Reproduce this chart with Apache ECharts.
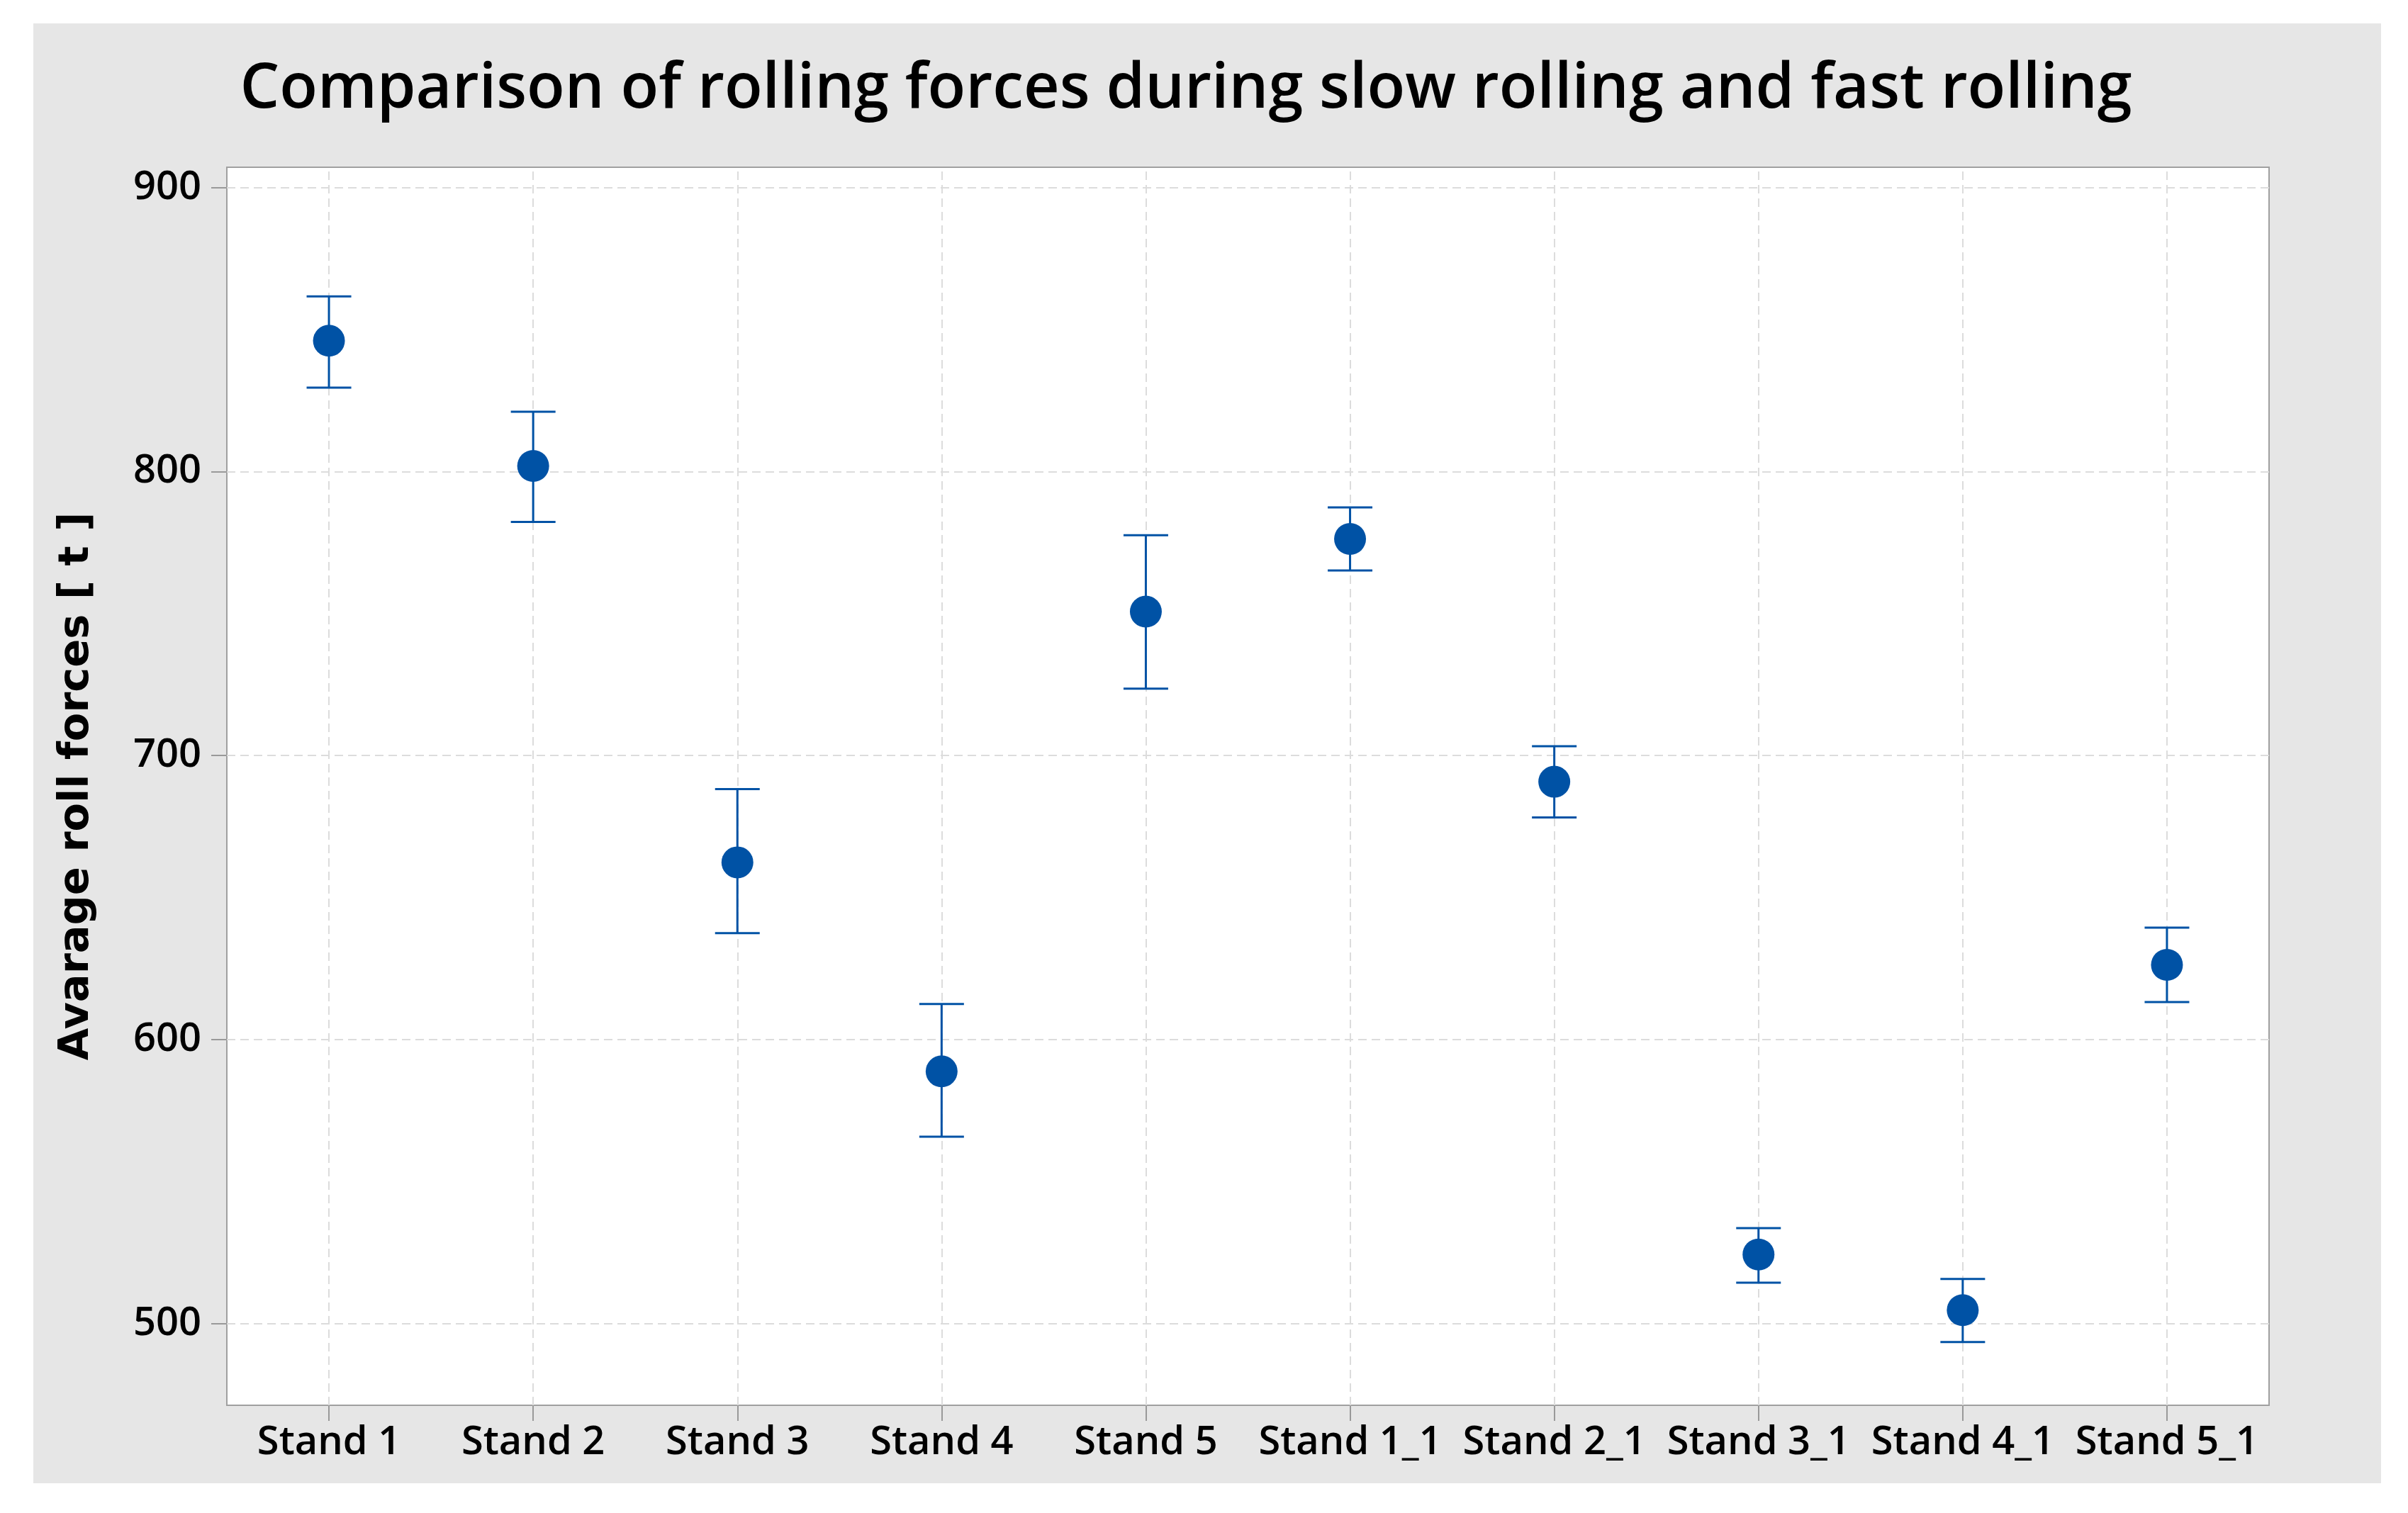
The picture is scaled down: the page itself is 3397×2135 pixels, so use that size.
<!DOCTYPE html>
<html>
<head>
<meta charset="utf-8">
<script src="https://cdn.jsdelivr.net/npm/echarts@6/dist/echarts.min.js"></script>
<style>
  html, body { margin: 0; padding: 0; background: #ffffff; }
  #bg { position: absolute; left: 47px; top: 33px; width: 3312px; height: 2060px; background: #e6e6e6; }
  #chart { position: absolute; left: 0; top: 0; width: 3397px; height: 2135px; }
</style>
</head>
<body>
<div id="bg"></div>
<div id="chart"></div>
<script>
const categories = ['Stand 1', 'Stand 2', 'Stand 3', 'Stand 4', 'Stand 5',
                    'Stand 1_1', 'Stand 2_1', 'Stand 3_1', 'Stand 4_1', 'Stand 5_1'];
const means = [846.1, 802.0, 662.4, 588.8, 750.7, 776.3, 690.8, 524.3, 504.7, 626.3];
const upper = [861.7, 821.1, 688.2, 612.5, 777.6, 787.4, 703.3, 533.6, 515.7, 639.4];
const lower = [829.6, 782.3, 637.5, 565.8, 723.6, 765.2, 678.2, 514.4, 493.5, 613.2];
const yTicks = [500, 600, 700, 800, 900];

const FONT = '"Open Sans", "Noto Sans", sans-serif';
const NAME_FONT = '"DejaVu Sans", Verdana, sans-serif';
const BLUE = '#0052A5';
const GRID_COLOR = '#dcdcdc';

const chart = echarts.init(document.getElementById('chart'), null, { renderer: 'canvas' });

const errData = categories.map((c, i) => [i, lower[i], upper[i]]);

const option = {
  backgroundColor: 'transparent',
  animation: false,
  title: {
    text: 'Comparison of rolling forces during slow rolling and fast rolling',
    left: 1668,
    textAlign: 'center',
    top: 78,
    textStyle: { fontFamily: FONT, fontSize: 88, fontWeight: 600, color: '#000' }
  },
  grid: {
    left: 320, top: 236, width: 2881, height: 1747,
    show: true, backgroundColor: '#ffffff', borderColor: '#a0a0a0', borderWidth: 2,
    containLabel: false
  },
  xAxis: {
    type: 'category',
    data: categories,
    boundaryGap: true,
    axisLine: { show: true, lineStyle: { color: '#a0a0a0', width: 2 } },
    axisTick: { show: true, alignWithLabel: true, length: 22, lineStyle: { color: '#999999', width: 2 } },
    axisLabel: { interval: 0, margin: 25, fontFamily: FONT, fontSize: 56, fontWeight: 600, color: '#000' },
    splitLine: { show: false }
  },
  yAxis: {
    type: 'value',
    min: 471.2,
    max: 907.2,
    name: 'Avarage roll forces [ t ]',
    nameLocation: 'middle',
    nameGap: 182,
    nameTextStyle: { fontFamily: NAME_FONT, fontSize: 59, fontWeight: 'bold', color: '#000' },
    axisLine: { show: true, lineStyle: { color: '#a0a0a0', width: 2 } },
    axisTick: { show: true, customValues: yTicks, length: 22, lineStyle: { color: '#999999', width: 2 } },
    axisLabel: { customValues: yTicks, margin: 36, fontFamily: FONT, fontSize: 56, fontWeight: 600, color: '#000' },
    splitLine: { show: false }
  },
  series: [
    {
      name: 'grid',
      type: 'scatter',
      data: [],
      silent: true,
      z: 1,
      markLine: {
        silent: true,
        z: 1,
        symbol: ['none', 'none'],
        label: { show: false },
        lineStyle: { color: GRID_COLOR, type: [12, 7], width: 2 },
        emphasis: { disabled: true },
        data: yTicks.map(v => ({ yAxis: v })).concat(categories.map(c => ({ xAxis: c })))
      }
    },
    {
      name: 'error',
      type: 'custom',
      z: 10,
      data: errData,
      renderItem: function (params, api) {
        const x = api.value(0);
        const lo = api.coord([x, api.value(1)]);
        const hi = api.coord([x, api.value(2)]);
        const hw = 31.5;
        const style = { stroke: BLUE, lineWidth: 3 };
        return {
          type: 'group',
          children: [
            { type: 'line', shape: { x1: lo[0], y1: lo[1], x2: hi[0], y2: hi[1] }, style: style },
            { type: 'line', shape: { x1: hi[0] - hw, y1: hi[1], x2: hi[0] + hw, y2: hi[1] }, style: style },
            { type: 'line', shape: { x1: lo[0] - hw, y1: lo[1], x2: lo[0] + hw, y2: lo[1] }, style: style }
          ]
        };
      }
    },
    {
      name: 'mean',
      type: 'scatter',
      z: 11,
      symbol: 'circle',
      symbolSize: 45,
      itemStyle: { color: BLUE, opacity: 1 },
      data: means.map((m, i) => [i, m])
    }
  ]
};
chart.setOption(option);
</script>
</body>
</html>
